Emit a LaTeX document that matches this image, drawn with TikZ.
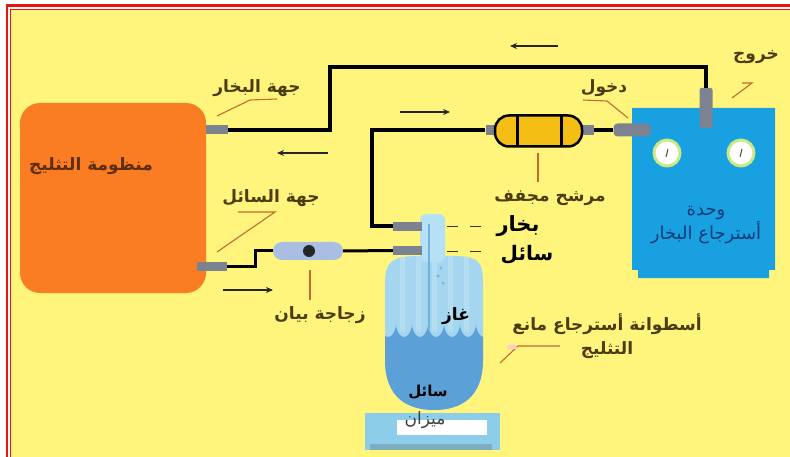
\documentclass[tikz,border=0pt]{standalone}
\usepackage{fontspec}
\usetikzlibrary{arrows.meta,calc}
\newfontfamily\arabicfont[Script=Arabic]{DejaVu Sans}
\TeXXeTstate=1
\newcommand\ar[1]{{\arabicfont\beginR #1\endR}}
\definecolor{bgyellow}{RGB}{255,245,125}
\definecolor{frame}{RGB}{235,20,20}
\definecolor{sysorange}{RGB}{250,125,35}
\definecolor{unitblue}{RGB}{25,160,225}
\definecolor{portgray}{RGB}{125,130,145}
\definecolor{filteryellow}{RGB}{245,190,20}
\definecolor{glassblue}{RGB}{170,190,228}
\definecolor{gasblue}{RGB}{165,214,240}
\definecolor{liqblue}{RGB}{92,160,216}
\definecolor{neckblue}{RGB}{182,224,245}
\definecolor{scaleblue}{RGB}{140,205,233}
\definecolor{labeltext}{RGB}{75,60,20}
\definecolor{systext}{RGB}{95,45,15}
\definecolor{leader}{RGB}{195,105,50}
\definecolor{unittext}{RGB}{15,60,120}
\tikzset{
  pipe/.style={line width=4pt, black},
  thinpipe/.style={line width=3pt, black},
  port/.style={fill=portgray, draw=none, inner sep=0pt},
  flow/.style={line width=1.2pt, black!85, -{Stealth[length=7pt,width=6pt]}},
  leaderline/.style={line width=1.1pt, leader},
  lbl/.style={text=labeltext, font=\fontsize{17}{19}\selectfont\bfseries, inner sep=1pt, align=center},
  biglbl/.style={text=black, font=\fontsize{21}{23}\selectfont\bfseries, inner sep=1pt},
  gauge/.style={circle, fill=white, draw=yellow!60!green!50, line width=3pt, minimum size=26pt, inner sep=0pt},
}
\begin{document}
\begin{tikzpicture}[x=1pt,y=-1pt]
\useasboundingbox (0,0) rectangle (790,457);
% page frame
\fill[white] (0,0) rectangle (790,457);
\fill[bgyellow] (11,10) rectangle (790,457);
\draw[frame, line width=2.6pt] (7,457) -- (7,5.3) -- (790,5.3);
\draw[frame, line width=0.9pt] (10.5,457) -- (10.5,9) -- (790,9);

% refrigeration system
\node[fill=sysorange, rounded corners=20pt, minimum width=186pt, minimum height=190pt, inner sep=0pt] (sys) at (113,198) {};
\node[text=systext, font=\fontsize{17}{19}\selectfont\bfseries] (systxt) at (91,166) {\ar{منظومة التثليج}};
\node[port, minimum width=22pt, minimum height=9pt] (vp) at (217,130) {};
\node[port, minimum width=30pt, minimum height=9pt] (lp) at (212,267) {};

% recovery unit
\fill[unitblue] (632,108) -- (775,108) -- (775,270) -- (769,270) -- (769,278) -- (638,278) -- (638,270) -- (632,270) -- cycle;
\coordinate (unit) at (703,193);
\node[gauge] (g1) at (667,153) {};
\node[gauge] (g2) at (741,153) {};
\draw[line width=1pt, black!70] (666,157) -- (668,149);
\draw[line width=1pt, black!70] (740,157) -- (742,149);
\node[text=unittext, font=\fontsize{18}{20}\selectfont, align=center] (unittxt) at (706,225) {\ar{وحدة}\\[1pt]\ar{أسترجاع البخار}};
\node[port, minimum width=13pt, minimum height=40pt, rounded corners=2pt] (xp) at (706,108) {};
\node[port, minimum width=37pt, minimum height=13pt, rounded corners=4pt] (ip) at (632,130) {};

% filter drier
\node[port, minimum width=11pt, minimum height=10pt] (fl) at (491,130) {};
\node[port, minimum width=12pt, minimum height=10pt] (fr) at (588,130) {};
\node[fill=filteryellow, draw=black, line width=2.5pt, rounded corners=14pt, minimum width=87pt, minimum height=31pt, inner sep=0pt] (filt) at (538.5,131) {};
\draw[line width=3pt] (517,116.5) -- (517,145.5) (561,116.5) -- (561,145.5);

% sight glass
\node[fill=glassblue, rounded corners=9pt, minimum width=70pt, minimum height=18pt, inner sep=0pt] (sg) at (308,251) {};
\fill[black!85] (309,251) circle (6pt);

% scale
\node[fill=scaleblue, minimum width=135pt, minimum height=37pt, inner sep=0pt] (scale) at (432,431) {};
\fill[scaleblue!80!black!90] (370,444) rectangle (492,450);
\fill[white] (397,420) rectangle (487,435);

% recovery cylinder
\begin{scope}
\clip (385,282) .. controls (385,259) and (396,256) .. (420,256) -- (450,256) .. controls (476,256) and (483,259) .. (483,282) -- (483,360) .. controls (483,398) and (460,410) .. (434,410) .. controls (408,410) and (385,398) .. (385,360) -- cycle;
\fill[gasblue] (380,250) rectangle (490,415);
\foreach \xx in {400,416,432,448,464} \fill[white, opacity=0.18] (\xx,256) rectangle (\xx+5,332);
\fill[liqblue] (380,325)
  \foreach \xx in {380,396,412,428,444,460,476} { -- (\xx,325) .. controls (\xx+2,341) and (\xx+14,341) .. (\xx+16,325) }
  -- (495,325) -- (495,415) -- (380,415) -- cycle;
\end{scope}
\node[fill=neckblue, rounded corners=6pt, minimum width=25pt, minimum height=48pt, inner sep=0pt] (neck) at (432.5,238) {};
\draw[line width=2pt, color=liqblue!70!gasblue] (429,224) -- (429,330);
\foreach \p in {(441,268),(438,276),(443,283)} \fill[liqblue!80] \p circle (1.6pt);
\node[port, minimum width=29pt, minimum height=9pt] (cvp) at (407.5,226.5) {};
\node[port, minimum width=29pt, minimum height=9pt] (clp) at (407.5,250.5) {};

% pipes
\draw[pipe] (vp.east) -- (330,130) |- (706,67) -- (xp.north);
\draw[pipe] (cvp.west) -| (372,130) -- (fl.west);
\draw[pipe] (fr.east) -- (ip.west);
\draw[thinpipe] (lp.east) -- (255,267) |- (sg.west);
\draw[thinpipe] (sg.east) -- (clp.west);

% flow direction
\draw[flow] (558,46) -- (510,46);
\draw[flow] (328,153) -- (277,153);
\draw[flow] (400,112) -- (450,112);
\draw[flow] (223,290) -- (273,290);

% cylinder port labels
\draw[line width=1.2pt, black!80, dash pattern=on 11pt off 12pt] (447,226.5) -- (493,226.5);
\draw[line width=1.2pt, black!80, dash pattern=on 11pt off 12pt] (447,251.5) -- (493,251.5);
\node[biglbl] (lvap) at (518,226) {\ar{بخار}};
\node[biglbl, font=\fontsize{20}{22}\selectfont\bfseries] (lliq) at (527,255) {\ar{سائل}};
\node[biglbl, font=\fontsize{17}{19}\selectfont\bfseries] (lgas) at (456,316) {\ar{غاز}};
\node[biglbl, font=\fontsize{15}{17}\selectfont\bfseries] (lfluid) at (428,392) {\ar{سائل}};
\node[text=black!75, font=\fontsize{17}{19}\selectfont] (lscale) at (425,420) {\ar{ميزان}};

% labels with leaders
\node[lbl] (lvs) at (257,88) {\ar{جهة البخار}};
\draw[leaderline] (217,116) -- (250,100) -- (277,99);
\node[lbl] (lls) at (271,198) {\ar{جهة السائل}};
\draw[leaderline] (238,212) -- (275,212) -- (217,252);
\node[lbl] (lsg) at (320,315) {\ar{زجاجة بيان}};
\draw[leaderline] (310,270) -- (310,300);
\node[lbl] (lfd) at (550,198) {\ar{مرشح مجفف}};
\draw[leaderline] (538,153) -- (538,182);
\node[lbl] (lin) at (604,88) {\ar{دخول}};
\draw[leaderline] (583,100) -- (607,101) -- (628,118);
\node[lbl] (lout) at (756,57) {\ar{خروج}};
\draw[leaderline] (742,83) -- (752,83) -- (732,98);
\node[lbl] (lcyl) at (607,336) {\ar{أسطوانة أسترجاع مانع}\\[5pt]\ar{التثليج}};
\draw[leaderline] (500,363) -- (518,346) -- (560,346);
\fill[pink!80!white] (512,347) ellipse (5pt and 2.5pt);
\end{tikzpicture}
\end{document}
